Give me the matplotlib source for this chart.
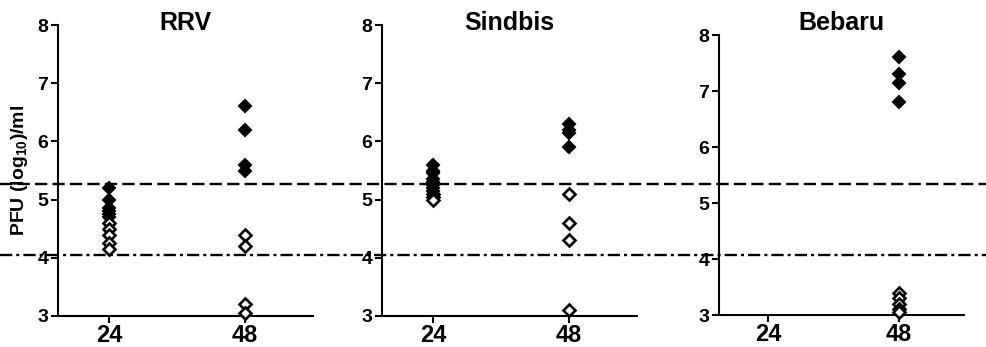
import matplotlib
matplotlib.use("Agg")
import matplotlib.pyplot as plt
from matplotlib.lines import Line2D
from matplotlib.transforms import blended_transform_factory

plt.rcParams["font.family"] = ["Liberation Sans", "DejaVu Sans"]
plt.rcParams["font.weight"] = "bold"
plt.rcParams["mathtext.fontset"] = "custom"
plt.rcParams["mathtext.rm"] = "Liberation Sans:bold"
plt.rcParams["mathtext.bf"] = "Liberation Sans:bold"

# hours post infection
hours = [24, 48]
viruses = ["RRV", "Sindbis", "Bebaru"]

# PFU (log10)/ml, filled = one group, open = the other
rrv_filled_24 = [5.2, 5.0, 4.85, 4.8, 4.75, 4.7]
rrv_open_24 = [4.6, 4.5, 4.4, 4.25, 4.15]
rrv_filled_48 = [6.6, 6.2, 5.6, 5.5]
rrv_open_48 = [4.4, 4.2, 3.2, 3.05]

sin_filled_24 = [5.6, 5.5, 5.45, 5.35, 5.3, 5.25, 5.2, 5.15]
sin_open_24 = [5.1, 5.05, 5.0]
sin_filled_48 = [6.3, 6.2, 6.15, 5.9]
sin_open_48 = [5.1, 4.6, 4.3, 3.1]

beb_filled_24 = []
beb_open_24 = []
beb_filled_48 = [7.6, 7.3, 7.15, 6.8]
beb_open_48 = [3.4, 3.3, 3.2, 3.1, 3.05]

# threshold lines (in RRV panel units)
upper_cutoff = 5.27
lower_cutoff = 4.05

data = {
    "RRV": ([rrv_filled_24, rrv_filled_48], [rrv_open_24, rrv_open_48]),
    "Sindbis": ([sin_filled_24, sin_filled_48], [sin_open_24, sin_open_48]),
    "Bebaru": ([beb_filled_24, beb_filled_48], [beb_open_24, beb_open_48]),
}

W, H = 986, 347
fig = plt.figure(figsize=(W / 100, H / 100), dpi=100)

# pixel boxes: left, right, top, bottom
boxes = [(58, 313, 25, 316), (382, 637, 25, 316), (719, 964, 35, 315)]

axes = []
for name, (l, r, t, b) in zip(viruses, boxes):
    ax = fig.add_axes([l / W, 1 - b / H, (r - l) / W, (b - t) / H])
    axes.append(ax)
    filled, hollow = data[name]
    for h, vals in zip(hours, filled):
        ax.plot([h] * len(vals), vals, linestyle="none", marker="D", ms=6.5,
                mfc="black", mec="black", mew=1.5, clip_on=False, zorder=3)
    for h, vals in zip(hours, hollow):
        ax.plot([h] * len(vals), vals, linestyle="none", marker="D", ms=6.5,
                mfc="white", mec="black", mew=1.9, clip_on=False, zorder=3)
    ax.set_xlim(15, 60)
    ax.set_ylim(3, 8)
    ax.set_xticks(hours)
    ax.set_yticks(range(3, 9))
    ax.spines["top"].set_visible(False)
    ax.spines["right"].set_visible(False)
    for s in ["left", "bottom"]:
        ax.spines[s].set_linewidth(1.5)
    ax.tick_params(axis="both", direction="out", length=5, width=1.5, pad=2)
    ax.tick_params(axis="y", labelsize=14)
    ax.tick_params(axis="x", labelsize=17, pad=1)
    ax.patch.set_alpha(0)
    fig.text((l + r) / 2 / W, 1 - 23 / H, name, ha="center", va="center",
             fontsize=18, fontweight="bold")

axes[0].set_ylabel(r"PFU (log$_{10}$)/ml", fontsize=14, fontweight="bold",
                   labelpad=5)

trans = blended_transform_factory(fig.transFigure, axes[0].transData)
fig.add_artist(Line2D([0, 1], [upper_cutoff] * 2, transform=trans, color="black",
                      lw=1.7, linestyle=(0, (5.2, 2.2))))
fig.add_artist(Line2D([0, 1], [lower_cutoff] * 2, transform=trans, color="black",
                      lw=1.7, linestyle=(0, (5.2, 1.7, 1.3, 1.7))))

fig.savefig("out.png", dpi=100)
